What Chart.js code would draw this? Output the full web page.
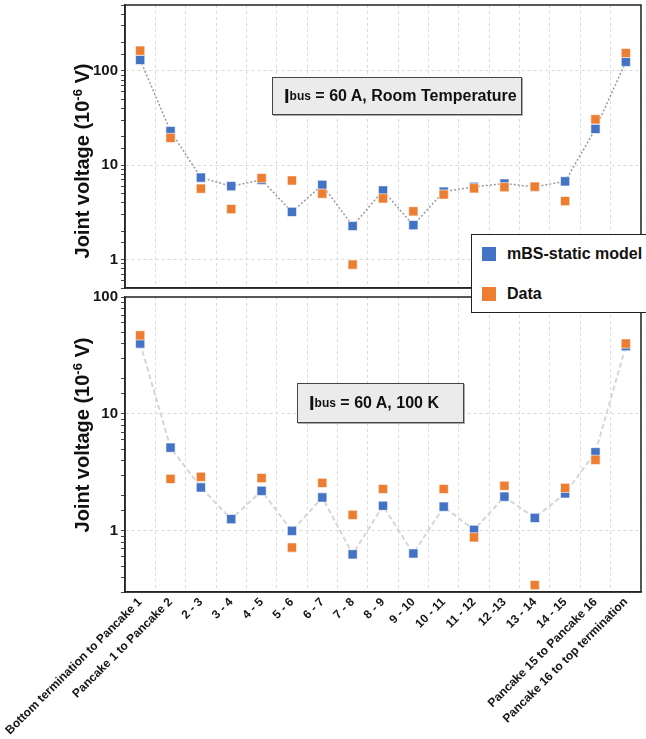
<!DOCTYPE html>
<html>
<head>
<meta charset="utf-8">
<script src="https://cdn.jsdelivr.net/npm/chart.js@4.4.0/dist/chart.umd.min.js"></script>
<style>
  html, body { margin: 0; padding: 0; background: #fff; }
  #wrap { position: relative; width: 646px; height: 739px; overflow: hidden;
          font-family: "Liberation Sans", Arial, Helvetica, sans-serif; font-weight: bold; color: #111; }
  canvas { position: absolute; left: 0; }
  #cTop { top: 0; }
  #cBot { top: 280px; }
  .ytitle { position: absolute; width: 300px; height: 24px; line-height: 24px; text-align: center;
            font-size: 20px; transform: rotate(-90deg); white-space: nowrap; z-index: 2; }
  .ytitle sup { font-size: 13px; vertical-align: 7px; line-height: 0; }
  .note { position: absolute; box-sizing: border-box; background: #ebebeb; border: 1px solid #444;
          box-shadow: 1px 1px 0 #aaa; font-size: 16px; padding-left: 11px; display: flex;
          align-items: center; white-space: pre; z-index: 2; }
  .note .I { font-size: 20px; }
  .note sub { font-size: 12px; vertical-align: -4px; line-height: 0; }
  #legend { position: absolute; left: 471px; top: 234px; width: 190px; height: 79px; box-sizing: border-box;
            background: #fff; border: 1.5px solid #222; z-index: 3; }
  .item { position: absolute; left: 10px; height: 16px; font-size: 16px; display: flex; align-items: center; }
  .sw { width: 14px; height: 14px; margin-right: 11px; }
</style>
</head>
<body>
<div id="wrap">
  <canvas id="cTop" width="646" height="293"></canvas>
  <canvas id="cBot" width="646" height="459"></canvas>
  <div class="ytitle" style="left:-68px; top:149px;">Joint voltage (10<sup>-6</sup> V)</div>
  <div class="ytitle" style="left:-68px; top:423px;">Joint voltage (10<sup>-6</sup> V)</div>
  <div class="note" id="noteTop" style="left:272px; top:77px; width:250px; height:38px;"></div>
  <div class="note" id="noteBot" style="left:297px; top:383px; width:167px; height:40px;"></div>
  <div id="legend"></div>
</div>
<script>
// Joints along the pancake stack
const categories = [
  "Bottom termination to Pancake 1", "Pancake 1 to Pancake 2",
  "2 - 3", "3 - 4", "4 - 5", "5 - 6", "6 - 7", "7 - 8", "8 - 9", "9 - 10",
  "10 - 11", "11 - 12", "12 -13", "13 - 14", "14 - 15",
  "Pancake 15 to Pancake 16", "Pancake 16 to top termination"
];

// Joint voltages (10^-6 V), room temperature
const modelRT = [131, 23, 7.4, 6.0, 7.0, 3.2, 6.2, 2.27, 5.4, 2.32, 5.25, 5.9, 6.4, 5.9, 6.75, 24.3, 125];
const dataRT  = [164, 19.5, 5.65, 3.43, 7.3, 6.9, 5.0, 0.885, 4.45, 3.25, 4.9, 5.7, 5.85, 5.93, 4.17, 30.7, 155];

// Joint voltages (10^-6 V), 100 K
const model100K = [40, 5.15, 2.35, 1.26, 2.2, 1.0, 1.93, 0.63, 1.64, 0.64, 1.61, 1.02, 1.96, 1.29, 2.09, 4.7, 38];
const data100K  = [47, 2.78, 2.9, null, 2.83, 0.72, 2.57, 1.37, 2.28, null, 2.28, 0.88, 2.43, 0.344, 2.33, 4.05, 40];

const seriesNames = ["mBS-static model", "Data"];
const seriesColors = ["#4472c4", "#ed7d31"];
const decadeLabels = [1, 10, 100];
const rangeRT = [0.5, 500];
const range100K = [0.3, 100];
const noteTexts = [" = 60 A, Room Temperature", " = 60 A, 100 K"];

const FONT = '"Liberation Sans", Arial, Helvetica, sans-serif';

function isDecade(v) {
  return decadeLabels.some(d => Math.abs(d - v) < 1e-9 * d);
}

// Box around the plotting area
const framePlugin = {
  id: 'frame',
  afterDraw(chart) {
    const { ctx, chartArea: a } = chart;
    ctx.save();
    ctx.strokeStyle = '#222';
    ctx.lineWidth = 1.5;
    ctx.strokeRect(a.left, a.top, a.right - a.left, a.bottom - a.top);
    ctx.restore();
  }
};

function makeChart(canvas, model, data, range, o) {
  const pointCommon = {
    pointStyle: 'rect', pointRadius: 6.5, pointHoverRadius: 6.5,
    pointBorderColor: 'rgba(255,255,255,0.6)', pointBorderWidth: 1
  };
  return new Chart(canvas, {
    type: 'line',
    data: {
      labels: categories,
      datasets: [
        Object.assign({
          label: seriesNames[1], data: data, showLine: false,
          pointBackgroundColor: seriesColors[1], order: 0
        }, pointCommon),
        Object.assign({
          label: seriesNames[0], data: model, showLine: true, tension: 0,
          borderColor: o.lineColor, borderWidth: o.lineWidth, borderDash: o.dash,
          pointBackgroundColor: seriesColors[0], order: 1
        }, pointCommon)
      ]
    },
    options: {
      responsive: false, animation: false, events: [],
      layout: { autoPadding: false, padding: { top: o.padTop, right: 5, left: 0, bottom: 0 } },
      plugins: { legend: { display: false }, tooltip: { enabled: false } },
      scales: {
        x: {
          offset: true,
          grid: { offset: true, color: '#dadada', lineWidth: 1, drawTicks: false },
          border: { display: true, color: '#333', width: 1.5, dash: [3, 3] },
          ticks: {
            display: o.showX, autoSkip: false, minRotation: 45, maxRotation: 45, padding: 3,
            color: '#161616', font: { family: FONT, size: 12, weight: 'bold' }
          },
          afterFit: s => {
            s.height = o.xHeight;
            s.paddingLeft = 0; s.paddingRight = 0;
          }
        },
        y: {
          type: 'logarithmic', min: range[0], max: range[1],
          grid: {
            color: c => (c.tick && isDecade(c.tick.value)) ? '#dadada' : 'rgba(0,0,0,0)',
            tickColor: '#444', tickLength: 4, drawTicks: true, lineWidth: 1
          },
          border: { display: true, color: '#333', width: 1.5, dash: [3, 3] },
          ticks: {
            autoSkip: false, padding: 3, color: '#161616',
            font: { family: FONT, size: 15, weight: 'bold' },
            callback: v => isDecade(v) ? String(Math.round(v)) : ''
          },
          afterFit: s => {
            s.width = 125;
            s.paddingTop = 0; s.paddingBottom = 0;
          }
        }
      }
    },
    plugins: [framePlugin]
  });
}

makeChart(document.getElementById('cTop'), modelRT, dataRT, rangeRT, {
  padTop: 5, xHeight: 5, showX: false, lineColor: '#9a9a9a', lineWidth: 1.5, dash: [2, 2]
});
makeChart(document.getElementById('cBot'), model100K, data100K, range100K, {
  padTop: 17, xHeight: 147, showX: true, lineColor: '#d6d6d6', lineWidth: 2, dash: [5, 3]
});

// Condition labels
function fillNote(id, text) {
  const el = document.getElementById(id);
  el.innerHTML = '<span class="I">I</span><sub>bus</sub>' + text;
}
fillNote('noteTop', noteTexts[0]);
fillNote('noteBot', noteTexts[1]);

// Legend
const legend = document.getElementById('legend');
seriesNames.forEach((name, i) => {
  const item = document.createElement('div');
  item.className = 'item';
  item.style.top = (11 + i * 40) + 'px';
  item.innerHTML = '<span class="sw" style="background:' + seriesColors[i] + '"></span>' + name;
  legend.appendChild(item);
});
</script>
</body>
</html>
